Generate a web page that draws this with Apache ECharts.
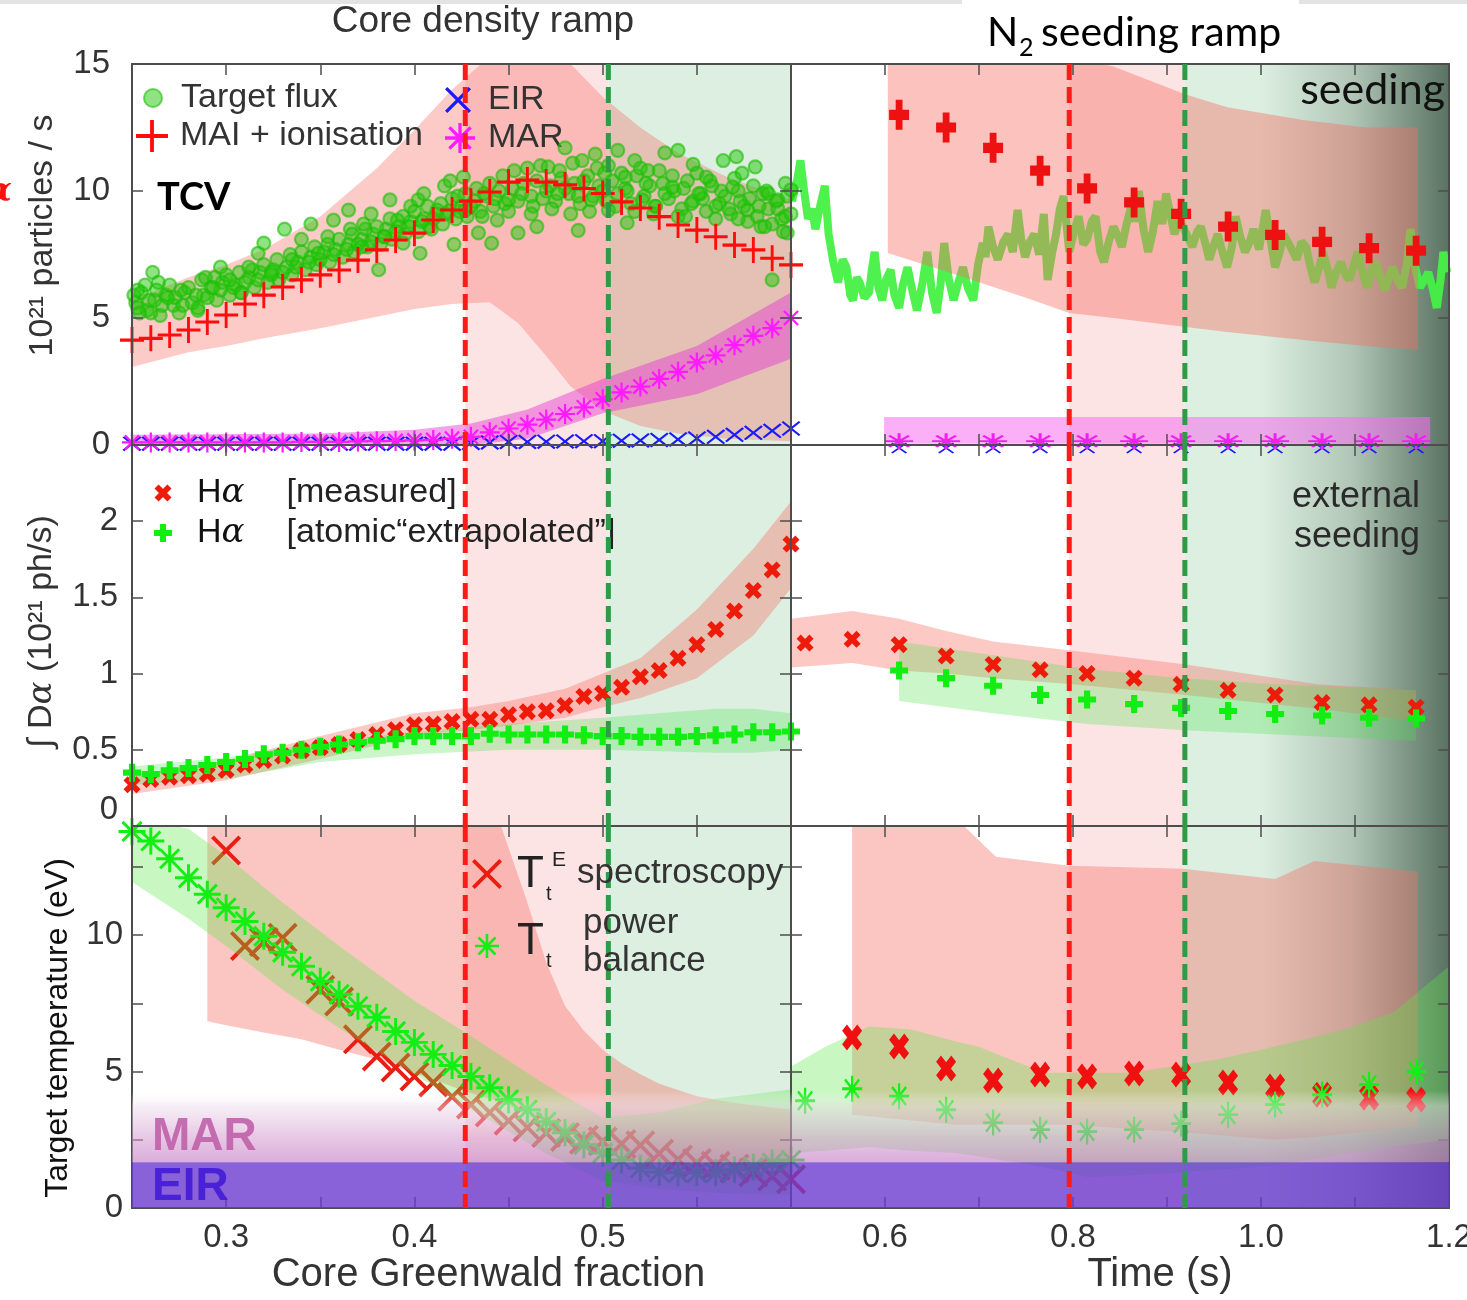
<!DOCTYPE html>
<html>
<head>
<meta charset="utf-8">
<title>TCV detachment: core density ramp and N2 seeding ramp</title>
<script src="https://cdn.jsdelivr.net/npm/echarts@6.0.0/dist/echarts.min.js"></script>
<style>
  html, body { margin: 0; padding: 0; background: #fff; }
  #chart { width: 1467px; height: 1300px; }
</style>
</head>
<body>
<div id="chart"></div>
<script>
// ================= Core density ramp (x = core Greenwald fraction) =================
const gwFraction = [0.25,0.26,0.27,0.28,0.29,0.30,0.31,0.32,0.33,0.34,0.35,0.36,0.37,0.38,0.39,0.40,0.41,0.42,
                    0.43,0.44,0.45,0.46,0.47,0.48,0.49,0.50,0.51,0.52,0.53,0.54,0.55,0.56,0.57,0.58,0.59,0.60];

// particle balance (10^21 particles / s)
const maiIonRamp = [4.13,4.2,4.33,4.53,4.84,5.12,5.55,5.9,6.22,6.5,6.7,6.89,7.28,7.68,8.07,8.34,8.86,9.25,
                    9.6,9.96,10.35,10.43,10.35,10.24,10.1,9.9,9.57,9.33,8.99,8.66,8.46,8.2,7.87,7.68,7.35,7.09];
const marRamp = [0.1,0.1,0.1,0.1,0.1,0.1,0.1,0.1,0.1,0.12,0.12,0.12,0.14,0.15,0.16,0.18,0.2,0.25,
                 0.32,0.5,0.65,0.8,1.0,1.22,1.48,1.8,2.07,2.3,2.6,2.88,3.25,3.53,3.93,4.3,4.6,5.0];
const eirRamp = [0.05,0.05,0.05,0.05,0.05,0.05,0.05,0.05,0.05,0.05,0.05,0.05,0.05,0.05,0.05,0.05,0.05,0.05,
                 0.08,0.1,0.12,0.12,0.13,0.14,0.15,0.15,0.17,0.18,0.2,0.22,0.26,0.32,0.4,0.48,0.56,0.65];
const maiBandX  = [0.25,0.28,0.30,0.32,0.35,0.38,0.40,0.42,0.44,0.455,0.47,0.483,0.50,0.52,0.54,0.566,0.60];
const maiBandLo = [3.07,3.65,3.9,4.2,4.6,5.05,5.35,5.55,5.62,4.8,3.5,2.3,1.35,0.75,0.45,0.25,0.15];
const maiBandHi = [5.7,6.6,7.1,7.7,9.0,10.9,12.4,14.0,15.3,15.6,15.6,15.0,13.7,12.5,11.5,10.55,9.65];
const marBandX  = [0.25,0.35,0.40,0.43,0.46,0.50,0.55,0.60];
const marBandLo = [0,0,0,0,0.25,1.25,2.0,3.4];
const marBandHi = [0.4,0.45,0.6,0.85,1.4,2.6,3.9,6.0];

// measured target ion flux (each point: [Greenwald fraction, 10^21 particles / s])
const targetFluxRamp = [
  [0.252,5.6],[0.255,6.0],[0.258,5.3],[0.262,5.7],[0.265,5.1],[0.268,5.9],[0.272,5.5],[0.275,5.2],[0.278,6.0],
  [0.282,5.6],[0.285,5.3],[0.288,5.9],[0.292,6.2],[0.295,5.7],[0.298,6.4],[0.302,5.9],[0.305,6.3],[0.308,6.0],
  [0.312,6.6],[0.315,6.2],[0.318,6.8],[0.322,6.4],[0.325,6.9],[0.328,6.5],[0.332,7.0],[0.335,6.7],[0.338,7.2],
  [0.342,6.9],[0.345,7.4],[0.348,7.1],[0.352,7.6],[0.355,7.2],[0.358,7.7],[0.362,7.4],[0.365,7.9],[0.368,7.6],
  [0.372,8.1],[0.375,7.8],[0.378,8.3],[0.382,7.9],[0.385,8.5],[0.388,8.1],[0.392,8.6],[0.395,8.3],[0.398,8.8],
  [0.402,8.4],[0.405,8.9],[0.408,8.6],[0.412,9.1],[0.415,8.7],[0.418,9.2],[0.422,8.9],[0.425,9.4],[0.428,9.0],
  [0.432,9.6],[0.435,9.2],[0.438,9.8],[0.442,9.4],[0.445,10.0],[0.448,9.5],[0.452,10.1],[0.455,9.6],[0.458,10.3],
  [0.462,9.8],[0.465,10.4],[0.468,9.7],[0.472,10.2],[0.475,9.6],[0.478,10.5],[0.482,9.9],[0.485,10.3],[0.488,9.5],
  [0.492,10.6],[0.495,9.8],[0.498,10.2],[0.502,9.6],[0.505,10.4],[0.508,9.9],[0.512,10.1],[0.515,9.5],[0.518,10.6],
  [0.522,9.8],[0.525,10.2],[0.528,9.4],[0.532,10.3],[0.535,9.7],[0.538,10.0],[0.542,9.3],[0.545,10.4],[0.548,9.6],
  [0.552,9.9],[0.555,9.2],[0.558,10.2],[0.562,9.5],[0.565,9.8],[0.568,9.1],[0.572,10.0],[0.575,9.4],[0.578,9.7],
  [0.582,9.0],[0.585,9.9],[0.588,9.3],[0.592,9.6],[0.595,8.9],[0.598,9.8],
  [0.251,5.9],[0.254,5.2],[0.257,6.3],[0.259,5.7],[0.263,6.1],[0.266,5.5],[0.270,6.3],[0.273,5.8],[0.277,5.5],
  [0.280,6.2],[0.284,5.9],[0.287,6.5],[0.290,5.8],[0.294,6.6],[0.297,6.1],[0.300,6.7],[0.304,6.2],[0.307,6.8],
  [0.310,6.4],[0.314,6.9],[0.317,6.5],[0.320,7.1],[0.324,6.7],[0.327,7.3],[0.330,6.8],[0.334,7.5],[0.337,7.0],
  [0.340,7.6],[0.344,7.2],[0.347,7.8],[0.350,7.3],[0.354,7.9],[0.357,7.5],[0.360,8.1],[0.364,7.7],[0.367,8.3],
  [0.370,7.9],[0.374,8.5],[0.377,8.0],[0.380,8.6],[0.384,8.2],[0.387,8.9],[0.390,8.4],[0.394,9.0],[0.397,8.6],
  [0.400,9.2],[0.404,8.8],[0.407,9.4],[0.410,8.9],[0.414,9.5],[0.417,9.1],[0.420,9.7],[0.424,9.2],[0.427,9.9],
  [0.430,9.4],
  [0.433,10.1],[0.436,9.0],[0.440,10.3],[0.443,9.7],[0.447,10.6],[0.450,9.2],[0.453,10.8],[0.457,9.9],[0.460,10.9],
  [0.463,9.4],[0.467,11.0],[0.470,10.0],[0.473,9.3],[0.477,10.8],[0.480,10.1],[0.484,11.1],[0.487,9.8],[0.490,10.4],
  [0.493,9.2],[0.497,10.9],[0.500,10.0],[0.503,11.0],[0.507,9.4],[0.510,10.7],[0.513,10.0],[0.517,9.2],[0.520,10.9],
  [0.523,10.3],[0.527,9.1],[0.530,10.8],[0.533,9.9],[0.537,10.6],[0.540,9.0],[0.543,10.1],[0.547,9.5],[0.550,10.7],
  [0.553,9.7],[0.557,10.4],[0.560,8.9],[0.563,10.0],[0.567,9.3],[0.570,10.5],[0.573,9.6],[0.577,8.8],[0.580,10.2],
  [0.583,9.4],[0.587,10.0],[0.590,8.7],[0.593,9.3],[0.597,10.3],[0.600,9.1],[0.596,8.4],[0.584,8.6],[0.572,8.9],
  [0.253,6.1],[0.261,6.8],[0.264,6.4],[0.253,5.4],[0.260,5.2],[0.269,5.8],[0.276,6.1],[0.285,5.4],[0.289,6.6],
  [0.297,7.0],[0.293,6.2],[0.302,6.5],[0.308,6.0],[0.312,7.0],[0.317,7.55],[0.320,7.95],[0.324,6.8],[0.331,8.5],
  [0.335,7.3],[0.340,8.1],[0.345,8.7],[0.349,7.55],[0.354,8.2],[0.357,8.85],[0.365,9.25],[0.366,8.5],[0.372,7.8],
  [0.373,8.7],[0.377,9.1],[0.381,6.9],[0.384,8.2],[0.387,9.65],[0.391,8.85],[0.394,7.95],[0.398,9.4],[0.402,9.65],
  [0.403,7.55],[0.405,9.9],[0.409,8.5],[0.412,9.25],[0.416,10.2],[0.419,10.4],[0.421,7.9],[0.423,9.8],[0.426,10.55],
  [0.427,9.25],[0.434,8.35],[0.441,7.95],[0.437,9.9],[0.444,8.85],[0.450,9.65],[0.455,8.35],[0.462,9.1],[0.465,8.6],
  [0.471,10.95],[0.476,9.9],[0.480,11.7],[0.483,9.1],[0.487,8.45],[0.489,11.2],[0.494,9.65],[0.496,11.45],[0.501,10.7],
  [0.503,9.25],[0.508,11.6],[0.512,10.55],[0.513,8.75],[0.517,11.2],[0.521,9.65],[0.524,10.8],[0.528,9.4],[0.533,11.5],
  [0.537,10.15],[0.540,11.6],[0.544,9.0],[0.548,11.05],[0.551,9.9],[0.555,10.55],[0.560,9.4],[0.564,11.2],[0.569,10.15],
  [0.571,11.35],[0.574,10.7],[0.577,9.25],[0.581,10.95],[0.586,8.6],[0.588,9.9],[0.590,6.5],[0.593,9.65],[0.597,9.0],
  [0.600,10.05],[0.598,8.35]
];

// Balmer emission (10^21 ph/s)
const hAlphaMeasRamp = [0.27,0.305,0.32,0.33,0.34,0.365,0.40,0.43,0.46,0.495,0.515,0.535,0.567,0.60,0.632,0.665,0.67,0.685,
                        0.70,0.70,0.73,0.75,0.756,0.79,0.85,0.87,0.91,0.98,1.02,1.10,1.19,1.29,1.41,1.545,1.68,1.85];
const hAlphaAtomRamp = [0.35,0.34,0.365,0.38,0.40,0.42,0.44,0.47,0.48,0.50,0.52,0.535,0.55,0.56,0.57,0.59,0.59,0.59,
                        0.59,0.605,0.60,0.60,0.60,0.60,0.595,0.59,0.59,0.585,0.585,0.585,0.59,0.595,0.60,0.615,0.615,0.62];
const hMeasBandX  = [0.25,0.30,0.35,0.40,0.43,0.45,0.48,0.50,0.52,0.55,0.58,0.60];
const hMeasBandLo = [0.21,0.3,0.44,0.59,0.63,0.66,0.71,0.78,0.84,0.97,1.25,1.56];
const hMeasBandHi = [0.33,0.43,0.59,0.74,0.78,0.82,0.9,1.0,1.1,1.42,1.82,2.13];
const hAtomBandX  = [0.25,0.30,0.35,0.40,0.45,0.50,0.53,0.56,0.58,0.60];
const hAtomBandLo = [0.27,0.31,0.42,0.47,0.5,0.5,0.49,0.48,0.48,0.5];
const hAtomBandHi = [0.39,0.45,0.55,0.62,0.67,0.71,0.74,0.77,0.77,0.74];

// target temperature (eV)
const tPowerRamp = [13.8,13.45,12.8,12.1,11.5,11.0,10.5,9.96,9.37,8.86,8.31,7.83,7.39,6.99,6.47,6.07,5.63,5.22,
                    4.82,4.41,3.97,3.6,3.16,2.76,2.32,2.02,1.76,1.47,1.32,1.29,1.29,1.29,1.4,1.5,1.65,1.76];
const tSpecGw   = [0.30,0.31,0.32,0.33,0.35,0.36,0.37,0.38,0.39,0.40,0.41,0.42,0.43,0.44,0.45,
                   0.46,0.47,0.48,0.49,0.50,0.51,0.52,0.53,0.54,0.55,0.56,0.57,0.58,0.59,0.60];
const tSpecRamp = [13.1,9.6,9.75,9.9,8.0,7.57,6.18,5.55,5.15,4.82,4.6,4.08,3.79,3.5,3.2,
                   2.95,2.75,2.6,2.5,2.45,2.35,2.3,2.0,1.78,1.65,1.55,1.45,1.3,1.15,1.05];
const tSpecBandX  = [0.29,0.30,0.32,0.34,0.36,0.38,0.40,0.42,0.435,0.445,0.46,0.47,0.48,0.49,0.50,0.51,0.52,0.53,0.55,0.57,0.60];
const tSpecBandLo = [6.84,6.7,6.43,6.18,5.8,5.44,4.96,4.45,4.1,3.9,3.4,3.1,2.8,2.5,2.2,1.95,1.75,1.55,1.3,1.1,0.9];
const tSpecBandHi = [14.5,14.5,14.5,14.5,14.5,14.5,14.5,14.5,14.5,14.2,11.2,9.0,7.4,6.5,5.8,5.3,4.9,4.55,4.1,3.85,3.6];
const tPowerBandX  = [0.25,0.28,0.30,0.33,0.36,0.40,0.43,0.47,0.50,0.53,0.56,0.60];
const tPowerBandLo = [11.95,10.6,9.6,8.0,6.6,4.9,3.6,2.0,1.0,0.7,0.55,0.48];
const tPowerBandHi = [14.3,13.9,12.9,11.2,9.6,7.6,6.3,4.5,3.3,3.5,4.0,4.34];

// ================= N2 seeding ramp (x = time, s) =================
const seedTime     = [0.615,0.665,0.715,0.765,0.815,0.865,0.915,0.965,1.015,1.065,1.115,1.165];
const seedTimeFull = [0.515,0.565,0.615,0.665,0.715,0.765,0.815,0.865,0.915,0.965,1.015,1.065,1.115,1.165];
const tSpecSeedTime = [0.565,0.615,0.665,0.715,0.765,0.815,0.865,0.915,0.965,1.015,1.065,1.115,1.165];

const maiIonSeed = [13.0,12.5,11.7,10.8,10.1,9.55,9.1,8.6,8.27,8.0,7.75,7.65];
const marSeed    = [0.15,0.15,0.15,0.15,0.15,0.15,0.15,0.15,0.15,0.15,0.15,0.15];
const eirSeed    = [-0.12,-0.12,-0.12,-0.12,-0.12,-0.12,-0.12,-0.12,-0.12,-0.12,-0.12,-0.12];
const maiBandSeedX  = [0.603,0.67,0.75,0.796,0.843,0.92,0.964,1.045,1.112,1.167];
const maiBandSeedLo = [7.56,6.77,5.8,5.2,5.0,4.65,4.45,4.13,3.9,3.74];
const maiBandSeedHi = [15.5,15.5,15.5,15.3,14.9,13.8,13.3,12.8,12.5,12.5];
const marBandSeedX  = [0.599,1.18];
const marBandSeedLo = [0.05,0.05];
const marBandSeedHi = [1.1,1.1];

// target ion flux trace (each point: [time, 10^21 particles / s])
const targetFluxSeed = [
  [0.501,9.6],[0.506,10.3],[0.510,11.2],[0.514,10.0],[0.518,8.9],[0.522,9.3],[0.526,8.5],[0.531,9.4],[0.536,10.2],
  [0.540,8.3],[0.545,7.2],[0.550,6.4],[0.555,7.3],[0.559,7.0],[0.563,5.9],[0.566,5.7],[0.570,6.6],[0.573,6.4],
  [0.578,5.8],[0.583,6.0],[0.586,6.9],[0.589,7.6],[0.593,6.2],[0.597,5.7],[0.601,6.5],[0.606,6.9],[0.610,5.9],
  [0.615,5.4],[0.619,6.3],[0.624,7.0],[0.629,6.1],[0.634,5.3],[0.640,6.4],[0.645,7.6],[0.650,6.0],[0.655,5.2],
  [0.659,6.3],[0.663,7.95],[0.668,6.5],[0.673,5.7],[0.678,6.4],[0.683,7.0],[0.688,6.2],[0.694,5.7],[0.699,7.1],
  [0.704,7.95],[0.707,7.4],[0.710,8.6],[0.715,7.8],[0.720,7.3],[0.726,8.0],[0.731,8.3],[0.736,7.6],[0.741,9.25],
  [0.745,8.1],[0.749,7.4],[0.754,8.0],[0.759,8.3],[0.764,7.5],[0.769,9.1],[0.773,6.5],[0.778,7.6],[0.782,8.3],
  [0.786,9.3],[0.790,9.8],[0.796,7.6],[0.801,8.4],[0.806,9.0],[0.811,7.9],[0.815,8.1],[0.820,8.8],[0.824,9.0],
  [0.829,7.6],[0.833,7.2],[0.838,8.0],[0.843,8.6],[0.848,8.2],[0.852,7.8],[0.857,8.7],[0.862,9.4],[0.866,8.8],
  [0.870,10.0],[0.875,8.5],[0.880,7.6],[0.885,8.4],[0.890,9.6],[0.895,8.7],[0.899,9.9],[0.904,9.0],[0.908,8.3],
  [0.913,8.9],[0.917,8.6],[0.922,8.2],[0.927,7.8],[0.932,8.4],[0.936,8.6],[0.941,7.9],[0.945,7.3],[0.950,7.9],
  [0.954,8.3],[0.959,7.6],[0.964,7.0],[0.969,7.8],[0.973,9.0],[0.978,8.2],[0.983,7.6],[0.988,8.0],[0.992,8.5],
  [0.998,7.7],[1.005,9.25],[1.010,8.1],[1.015,7.0],[1.020,7.6],[1.024,8.3],[1.030,7.9],[1.038,7.3],[1.043,8.0],
  [1.048,7.8],[1.052,7.1],[1.057,6.4],[1.062,7.0],[1.066,7.6],[1.071,6.9],[1.075,6.2],[1.080,6.8],[1.085,7.2],
  [1.090,6.7],[1.094,6.5],[1.099,7.1],[1.103,7.6],[1.108,6.8],[1.113,6.2],[1.118,6.9],[1.122,7.2],[1.127,6.6],
  [1.132,6.1],[1.136,6.6],[1.140,7.0],[1.145,6.5],[1.150,6.2],[1.155,7.1],[1.159,8.5],[1.164,7.0],[1.169,6.2],
  [1.174,6.5],[1.178,6.8],[1.183,6.1],[1.187,5.4],[1.191,6.5],[1.194,7.6],[1.198,6.8]
];

const hAlphaMeasSeed = [1.2,1.225,1.19,1.115,1.06,1.025,1.0,0.97,0.93,0.89,0.86,0.81,0.795,0.78];
const hAlphaAtomSeed = [1.02,0.97,0.92,0.86,0.83,0.80,0.775,0.755,0.735,0.725,0.71,0.705];
const hMeasBandSeedX  = [0.5,0.565,0.615,0.665,0.715,0.8,0.92,1.06,1.165];
const hMeasBandSeedLo = [1.04,1.07,1.02,1.0,0.97,0.93,0.86,0.77,0.69];
const hMeasBandSeedHi = [1.36,1.41,1.36,1.28,1.21,1.15,1.06,0.93,0.89];
const hAtomBandSeedX  = [0.615,0.715,0.815,0.915,1.015,1.165];
const hAtomBandSeedLo = [0.82,0.74,0.67,0.63,0.6,0.56];
const hAtomBandSeedHi = [1.21,1.12,1.03,0.97,0.93,0.89];

const tSpecSeed  = [6.25,5.92,5.11,4.67,4.89,4.82,4.93,4.89,4.6,4.45,4.15,4.04,3.97];
const tPowerSeed = [3.93,4.37,4.1,3.6,3.13,2.87,2.8,2.87,3.09,3.42,3.79,4.15,4.52,5.0];
const tSpecBandSeedX  = [0.565,0.675,0.718,0.796,0.917,1.015,1.057,1.167];
const tSpecBandSeedLo = [3.42,3.05,3.05,3.05,2.78,2.5,2.6,2.98];
const tSpecBandSeedHi = [14.5,14.3,12.87,12.54,12.43,12.06,12.72,12.32];
const tPowerBandSeedX  = [0.501,0.536,0.583,0.628,0.675,0.699,0.769,0.815,0.862,0.908,0.954,1.0,1.048,1.094,1.141,1.2];
const tPowerBandSeedLo = [2.02,2.1,2.24,2.1,2.02,1.9,1.5,1.14,1.2,1.29,1.4,1.5,1.75,2.02,2.25,2.5];
const tPowerBandSeedHi = [5.2,5.9,6.65,6.54,6.1,5.92,4.96,4.96,4.96,5.2,5.44,5.8,6.18,6.6,7.17,8.86];

// phase boundaries: [detachment onset, strong detachment, end of scan]
const rampPhase = [0.427, 0.503, 0.6];
const seedPhase = [0.796, 0.919, 1.2];
const seedFade  = [1.0, 1.2];           // external seeding shading
const eirZone   = [0, 1.68];            // eV
const marZone   = [1.68, 4.3];          // eV

// tick labels
const gwTickLabels       = ['0.3', '0.4', '0.5'];
const timeTickLabels     = ['0.6', '0.8', '1.0', '1.2'];
const particleTickLabels = ['0', '5', '10', '15'];
const photonTickLabels   = ['0', '0.5', '1', '1.5', '2'];
const tempTickLabels     = ['0', '5', '10'];

// ================= styling helpers =================
const FONT = '"Liberation Sans", Arial, Helvetica, sans-serif';
const LATO = 'Lato, "Open Sans", sans-serif';
const AXIS_GREY = '#4d4d4d';
const PINK_BG = '#fde4e4';
const GREEN_BG = '#dcefe1';

// marker outlines built from thin bars through the origin (same winding, so overlaps stay filled)
function armsPath(angles, half, thick) {
  return 'path://' + angles.map(a => {
    const r = a * Math.PI / 180, c = Math.cos(r), s = Math.sin(r);
    const pts = [[half, thick], [half, -thick], [-half, -thick], [-half, thick]]
      .map(([x, y]) => (x * c - y * s).toFixed(2) + ',' + (x * s + y * c).toFixed(2));
    return 'M' + pts.join('L') + 'Z';
  }).join('');
}
const PLUS_THIN = armsPath([0, 90], 50, 6);
const PLUS_BOLD = armsPath([0, 90], 50, 17);
const X_THIN    = armsPath([45, 135], 50, 5);
const X_BOLD    = armsPath([45, 135], 50, 16);
const STAR      = armsPath([0, 45, 90, 135], 50, 5.5);

const grids = [
  { left: 132, top: 64,  width: 659, height: 381 },
  { left: 791, top: 64,  width: 658, height: 381 },
  { left: 132, top: 445, width: 659, height: 381 },
  { left: 791, top: 445, width: 658, height: 381 },
  { left: 132, top: 826, width: 659, height: 382 },
  { left: 791, top: 826, width: 658, height: 382 }
].map(g => Object.assign({ containLabel: false, outerBoundsMode: 'none' }, g));

const xRange = [
  { min: 0.25, max: 0.6, interval: 0.05 },
  { min: 0.5,  max: 1.2, interval: 0.1 }
];
const yRange = [
  { min: 0, max: 15,  interval: 5 },
  { min: 0, max: 2.5, interval: 0.5 },
  { min: 0, max: 14,  interval: 2.5 }
];

const xLabelFmt = [
  v => { const s = String(+v.toFixed(2)); return gwTickLabels.includes(s) ? s : ''; },
  v => { const s = v.toFixed(1); return (Math.abs(v - parseFloat(s)) < 1e-6 && timeTickLabels.includes(s)) ? s : ''; }
];
const yLabelFmt = [
  v => { const s = String(+v.toFixed(2)); return particleTickLabels.includes(s) ? s : ''; },
  v => { const s = String(+v.toFixed(2)); return photonTickLabels.includes(s) ? s : ''; },
  v => { const s = String(+v.toFixed(2)); return tempTickLabels.includes(s) ? s : ''; }
];
const yLabelMargin = [22, 14, 9];

const yNames = [
  { name: '10²¹ particles / s', nameGap: 72,
    nameTextStyle: { fontSize: 34, color: '#333', fontFamily: FONT, padding: [0, 0, 0, 38] } },
  { name: '{t|∫ D}{a|α}{t| (10²¹ ph/s)}', nameGap: 73,
    nameTextStyle: { fontSize: 34, color: '#333', fontFamily: FONT, padding: [0, 0, 0, 8],
      rich: { t: { fontSize: 34, color: '#333', fontFamily: FONT },
              a: { fontSize: 34, color: '#333', fontFamily: '"DejaVu Serif", serif', fontStyle: 'italic' } } } },
  { name: 'Target temperature (eV)', nameGap: 58,
    nameTextStyle: { fontSize: 32, color: '#111', fontFamily: FONT, padding: [0, 22, 0, 0] } }
];
const xNames = [
  { name: 'Core Greenwald fraction', nameGap: 46,
    nameTextStyle: { fontSize: 40, color: '#333', fontFamily: FONT, padding: [0, 0, 0, 54] } },
  { name: 'Time (s)', nameGap: 46,
    nameTextStyle: { fontSize: 40, color: '#333', fontFamily: FONT, padding: [0, 0, 0, 80] } }
];

const xAxes = [], yAxes = [];
grids.forEach((g, gi) => {
  const col = gi % 2, row = Math.floor(gi / 2);
  const common = {
    gridIndex: gi, type: 'value', z: 20,
    splitLine: { show: false },
    axisLine: { onZero: false, lineStyle: { color: AXIS_GREY, width: 2 } },
    axisTick: { inside: true, length: 11, lineStyle: { color: AXIS_GREY, width: 1.5 } }
  };
  const xb = Object.assign({}, common, xRange[col], {
    position: 'bottom',
    axisLabel: { show: row === 2, formatter: xLabelFmt[col], fontSize: 33, color: '#333',
                 fontFamily: FONT, margin: 13, showMinLabel: true, showMaxLabel: true }
  });
  if (row === 2) Object.assign(xb, { nameLocation: 'middle' }, xNames[col]);
  xAxes.push(xb);
  xAxes.push(Object.assign({}, common, xRange[col], { position: 'top', axisLabel: { show: false } }));

  const yl = Object.assign({}, common, yRange[row], {
    position: 'left',
    axisLabel: { show: col === 0, formatter: yLabelFmt[row], fontSize: 33, color: '#333',
                 fontFamily: FONT, margin: yLabelMargin[row],
                 verticalAlignMinLabel: row === 1 ? 'bottom' : null }
  });
  if (col === 0) Object.assign(yl, { nameLocation: 'middle' }, yNames[row]);
  yAxes.push(yl);
  yAxes.push(Object.assign({}, common, yRange[row], { position: 'right', axisLabel: { show: false } }));
});

// ================= series builders =================
function pairs(xs, ys) { return xs.map((x, i) => [x, ys[i]]); }

function markers(name, gi, xs, ys, symbol, size, color, z, extra) {
  return Object.assign({
    type: 'scatter', name, xAxisIndex: 2 * gi, yAxisIndex: 2 * gi,
    data: pairs(xs, ys), symbol, symbolSize: size, z, silent: true,
    itemStyle: { color, opacity: 1 }
  }, extra || {});
}

// filled uncertainty band between lower and upper curves
function band(name, gi, xs, lo, hi, fill, z) {
  return {
    type: 'custom', name, xAxisIndex: 2 * gi, yAxisIndex: 2 * gi, z, silent: true, clip: true,
    data: [[xs[0], lo[0]]],
    renderItem: (params, api) => {
      const pts = xs.map((x, i) => api.coord([x, hi[i]]));
      for (let i = xs.length - 1; i >= 0; i--) pts.push(api.coord([xs[i], lo[i]]));
      return { type: 'polygon', shape: { points: pts }, style: { fill } };
    }
  };
}

// phase shading behind the data (pink: onset, green: deep detachment, dark fade: external seeding)
function phaseBackground(gi, phase, fade) {
  const yr = yRange[Math.floor(gi / 2)];
  return {
    type: 'custom', xAxisIndex: 2 * gi, yAxisIndex: 2 * gi, z: 0, silent: true, clip: true,
    data: [[phase[0], yr.min]],
    renderItem: (params, api) => {
      const top = api.coord([phase[0], yr.max])[1], bot = api.coord([phase[0], yr.min])[1];
      const xa = api.coord([phase[0], yr.min])[0];
      const xb = api.coord([phase[1], yr.min])[0];
      const xc = api.coord([phase[2], yr.min])[0];
      const children = [
        { type: 'rect', shape: { x: xa, y: top, width: xb - xa, height: bot - top }, style: { fill: PINK_BG } },
        { type: 'rect', shape: { x: xb, y: top, width: xc - xb, height: bot - top }, style: { fill: GREEN_BG } }
      ];
      if (fade) {
        const f0 = api.coord([fade[0], yr.min])[0], f1 = api.coord([fade[1], yr.min])[0];
        children.push({
          type: 'rect', shape: { x: f0, y: top, width: f1 - f0, height: bot - top },
          style: { fill: new echarts.graphic.LinearGradient(0, 0, 1, 0, [
            { offset: 0, color: 'rgba(38,66,48,0)' },
            { offset: 0.475, color: 'rgba(38,66,48,0.23)' },
            { offset: 0.815, color: 'rgba(38,66,48,0.55)' },
            { offset: 1, color: 'rgba(38,66,48,0.72)' }
          ]) }
        });
      }
      return { type: 'group', children };
    }
  };
}

// dashed phase markers
function phaseLines(gi, phase) {
  const yr = yRange[Math.floor(gi / 2)];
  return {
    type: 'custom', xAxisIndex: 2 * gi, yAxisIndex: 2 * gi, z: 30, silent: true, clip: false,
    data: [[phase[0], yr.min]],
    renderItem: (params, api) => {
      const mk = (x, stroke) => {
        const a = api.coord([x, yr.max]), b = api.coord([x, yr.min]);
        return { type: 'line', shape: { x1: a[0], y1: a[1], x2: b[0], y2: b[1] },
                 style: { stroke, fill: null, lineWidth: 5, lineDash: [16, 7] } };
      };
      return { type: 'group', children: [mk(phase[0], '#ff1a1a'), mk(phase[1], '#2e9c46')] };
    }
  };
}

// MAR / EIR temperature regimes laid over the temperature panels
function regimeBands(gi) {
  const xr = xRange[gi % 2];
  return {
    type: 'custom', xAxisIndex: 2 * gi, yAxisIndex: 2 * gi, z: 25, silent: true, clip: true,
    data: [[xr.min, 0]],
    renderItem: (params, api) => {
      const l = api.coord([xr.min, 0])[0], r = api.coord([xr.max, 0])[0];
      const e0 = api.coord([xr.min, eirZone[0]])[1], e1 = api.coord([xr.min, eirZone[1]])[1];
      const m0 = api.coord([xr.min, marZone[0]])[1], m1 = api.coord([xr.min, marZone[1]])[1];
      return { type: 'group', children: [
        { type: 'rect', shape: { x: l, y: m1, width: r - l, height: m0 - m1 },
          style: { fill: new echarts.graphic.LinearGradient(0, 0, 0, 1, [
            { offset: 0, color: 'rgba(255,255,255,0)' },
            { offset: 0.22, color: 'rgba(236,218,236,0.48)' },
            { offset: 0.65, color: 'rgba(212,156,208,0.56)' },
            { offset: 1, color: 'rgba(196,128,198,0.64)' }
          ]) } },
        { type: 'rect', shape: { x: l, y: e1, width: r - l, height: e0 - e1 },
          style: { fill: 'rgba(108,58,208,0.8)' } }
      ] };
    }
  };
}

const RED_BAND = 'rgba(246,112,102,0.36)';
const series = [
  // ---------- particle balance, density ramp ----------
  phaseBackground(0, rampPhase, null),
  band('MAI + ionisation uncertainty', 0, maiBandX, maiBandLo, maiBandHi, RED_BAND, 2),
  band('MAR uncertainty', 0, marBandX, marBandLo, marBandHi, 'rgba(226,50,210,0.45)', 3),
  { type: 'scatter', name: 'Target flux', xAxisIndex: 0, yAxisIndex: 0, data: targetFluxRamp, z: 4, silent: true,
    symbol: 'circle', symbolSize: 13,
    itemStyle: { color: 'rgba(34,200,8,0.5)', borderColor: 'rgba(30,190,8,0.62)', borderWidth: 2.2, opacity: 1 } },
  markers('EIR', 0, gwFraction, eirRamp, X_THIN, [19, 15], '#1a1aff', 5),
  markers('MAI + ionisation', 0, gwFraction, maiIonRamp, PLUS_THIN, [24, 26], '#ff0d0d', 6),
  markers('MAR', 0, gwFraction, marRamp, STAR, 20, '#ff1aff', 6),
  phaseLines(0, rampPhase),

  // ---------- particle balance, seeding ramp ----------
  phaseBackground(1, seedPhase, seedFade),
  { type: 'line', name: 'Target flux', xAxisIndex: 2, yAxisIndex: 2, data: targetFluxSeed, z: 2, silent: true,
    showSymbol: false, symbol: 'none', lineStyle: { width: 8, color: 'rgba(70,240,70,0.95)' } },
  band('MAI + ionisation uncertainty', 1, maiBandSeedX, maiBandSeedLo, maiBandSeedHi, 'rgba(246,110,100,0.42)', 3),
  band('MAR uncertainty', 1, marBandSeedX, marBandSeedLo, marBandSeedHi, 'rgba(246,110,240,0.55)', 3),
  markers('MAI + ionisation', 1, seedTime, maiIonSeed, PLUS_BOLD, [20, 30], '#ee1111', 6),
  markers('EIR', 1, seedTime, eirSeed, X_THIN, [16, 11], '#1a1aff', 5, { clip: false }),
  markers('MAR', 1, seedTime, marSeed, STAR, [28, 16], '#ee22ee', 6, {
    markLine: { silent: true, symbol: 'none', label: { show: false }, data: [{ yAxis: 0 }],
                lineStyle: { color: '#2d2d8c', width: 2, type: 'solid' } }
  }),
  phaseLines(1, seedPhase),

  // ---------- Balmer emission, density ramp ----------
  phaseBackground(2, rampPhase, null),
  band('Hα measured uncertainty', 2, hMeasBandX, hMeasBandLo, hMeasBandHi, 'rgba(246,112,102,0.38)', 2),
  band('Hα atomic uncertainty', 2, hAtomBandX, hAtomBandLo, hAtomBandHi, 'rgba(80,225,80,0.3)', 3),
  markers('Hα [measured]', 2, gwFraction, hAlphaMeasRamp, X_BOLD, 17, '#ee1a0a', 5),
  markers('Hα [atomic extrapolated]', 2, gwFraction, hAlphaAtomRamp, PLUS_BOLD, 18, '#12ee12', 6),
  phaseLines(2, rampPhase),

  // ---------- Balmer emission, seeding ramp ----------
  phaseBackground(3, seedPhase, seedFade),
  band('Hα measured uncertainty', 3, hMeasBandSeedX, hMeasBandSeedLo, hMeasBandSeedHi, 'rgba(246,112,102,0.38)', 2),
  band('Hα atomic uncertainty', 3, hAtomBandSeedX, hAtomBandSeedLo, hAtomBandSeedHi, 'rgba(80,225,80,0.3)', 3),
  markers('Hα [measured]', 3, seedTimeFull, hAlphaMeasSeed, X_BOLD, 17, '#ee1a0a', 5),
  markers('Hα [atomic extrapolated]', 3, seedTime, hAlphaAtomSeed, PLUS_BOLD, 18, '#12ee12', 6),
  phaseLines(3, seedPhase),

  // ---------- target temperature, density ramp ----------
  phaseBackground(4, rampPhase, null),
  band('Tt spectroscopy uncertainty', 4, tSpecBandX, tSpecBandLo, tSpecBandHi, 'rgba(246,112,102,0.4)', 2),
  markers('Tt spectroscopy', 4, tSpecGw, tSpecRamp, X_THIN, 30, '#e81e10', 3),
  band('Tt power balance uncertainty', 4, tPowerBandX, tPowerBandLo, tPowerBandHi, 'rgba(90,230,70,0.33)', 4),
  markers('Tt power balance', 4, gwFraction, tPowerRamp, STAR, 27, '#14ee14', 5),
  regimeBands(4),
  phaseLines(4, rampPhase),

  // ---------- target temperature, seeding ramp ----------
  phaseBackground(5, seedPhase, seedFade),
  band('Tt spectroscopy uncertainty', 5, tSpecBandSeedX, tSpecBandSeedLo, tSpecBandSeedHi, 'rgba(246,112,102,0.4)', 2),
  band('Tt power balance uncertainty', 5, tPowerBandSeedX, tPowerBandSeedLo, tPowerBandSeedHi, 'rgba(90,230,70,0.33)', 3),
  markers('Tt spectroscopy', 5, tSpecSeedTime, tSpecSeed, X_BOLD, [20, 26], '#f01010', 5),
  markers('Tt power balance', 5, seedTimeFull, tPowerSeed, STAR, [20, 26], '#14ee14', 6),
  regimeBands(5),
  phaseLines(5, seedPhase)
];

// ================= legends (one per entry, so each icon can be sized on its own) =================
// The legend box is placed by its content bounds, which start at the icon's left edge.
const LEGEND_TEXT = { fontSize: 34, color: '#333', fontFamily: FONT };
function legendEntry(name, icon, cx, cy, size, textStart, extra) {
  const w = textStart ? 2 * (textStart - 5 - cx) : size;
  const textH = textStart ? 34 : size;
  return Object.assign({
    data: [{ name, icon }], orient: 'vertical', padding: 0, selectedMode: false,
    left: cx - size / 2, top: cy - Math.max(size, textH) / 2,
    itemWidth: w, itemHeight: size, textStyle: LEGEND_TEXT
  }, extra || {});
}
const H_ALPHA_RICH = {
  H: { fontSize: 34, color: '#111', fontFamily: FONT },
  a: { fontSize: 34, color: '#111', fontFamily: '"DejaVu Serif", serif', fontStyle: 'italic', width: 65 },
  t: { fontSize: 34, color: '#222', fontFamily: FONT }
};
const legends = [
  legendEntry('Target flux', 'circle', 152, 98, 18, 180),
  legendEntry('MAI + ionisation', PLUS_THIN, 152, 136, 32, 180),
  legendEntry('EIR', X_THIN, 458, 100, 26, 488),
  legendEntry('MAR', STAR, 460, 138, 30, 488),
  legendEntry('Hα [measured]', X_BOLD, 163, 493, 17, 197, {
    formatter: () => '{H|H}{a|α}{t|[measured]}',
    textStyle: Object.assign({}, LEGEND_TEXT, { rich: H_ALPHA_RICH }) }),
  legendEntry('Hα [atomic extrapolated]', PLUS_BOLD, 163, 533, 18, 197, {
    formatter: () => '{H|H}{a|α}{t|[atomic“extrapolated”]}',
    textStyle: Object.assign({}, LEGEND_TEXT, { rich: H_ALPHA_RICH }) }),
  legendEntry('Tt spectroscopy', X_THIN, 487, 874, 30, 0, { formatter: () => '', textStyle: { fontSize: 1 } }),
  legendEntry('Tt power balance', STAR, 487, 946, 24, 0, { formatter: () => '', textStyle: { fontSize: 1 } })
];

// ================= free text =================
function txt(text, x, y, font, fill, align) {
  return { type: 'text', x, y, z: 100, silent: true,
           style: { text, font, fill, align: align || 'left', textAlign: align || 'left',
                    verticalAlign: 'middle', textVerticalAlign: 'middle' } };
}
const graphics = [
  { type: 'rect', z: 100, silent: true, shape: { x: 0, y: 0, width: 962, height: 4 }, style: { fill: '#e3e3e3' } },
  { type: 'rect', z: 100, silent: true, shape: { x: 1299, y: 0, width: 168, height: 4 }, style: { fill: '#e3e3e3' } },
  txt('Core density ramp', 483, 22, '37px ' + FONT, '#333', 'center'),
  txt('N', 987, 33, '41px ' + LATO, '#000'),
  txt('2', 1019, 48, '25px ' + LATO, '#000'),
  txt('seeding ramp', 1041, 33, '41px ' + LATO, '#000'),
  txt('seeding', 1445, 90, '43px ' + LATO, '#111', 'right'),
  txt('TCV', 157, 198, 'bold 38px ' + LATO, '#000'),
  txt('α', 12, 192, 'italic bold 34px "DejaVu Serif", serif', '#ff1010', 'right'),
  txt('external', 1420, 497, '36px ' + FONT, '#2a2a2a', 'right'),
  txt('seeding', 1420, 537, '36px ' + FONT, '#2a2a2a', 'right'),
  txt('T', 517, 875, '44px ' + FONT, '#222'),
  txt('t', 546, 894, '20px ' + FONT, '#222'),
  txt('E', 552, 860, '21px ' + FONT, '#222'),
  txt('spectroscopy', 577, 873, '35px ' + FONT, '#333'),
  txt('T', 517, 942, '44px ' + FONT, '#222'),
  txt('t', 546, 961, '20px ' + FONT, '#222'),
  txt('power', 583, 923, '35px ' + FONT, '#333'),
  txt('balance', 583, 961, '35px ' + FONT, '#333'),
  txt('MAR', 152, 1137, 'bold 46px "Liberation Sans Narrow", ' + FONT, 'rgba(192,96,170,0.9)'),
  txt('EIR', 152, 1187, 'bold 46px "Liberation Sans Narrow", ' + FONT, 'rgba(70,30,214,0.95)')
];

const chart = echarts.init(document.getElementById('chart'), null, { renderer: 'canvas', width: 1467, height: 1300 });
chart.setOption({
  animation: false,
  backgroundColor: '#ffffff',
  textStyle: { fontFamily: FONT },
  grid: grids,
  xAxis: xAxes,
  yAxis: yAxes,
  legend: legends,
  series,
  graphic: { elements: graphics }
});
</script>
</body>
</html>
